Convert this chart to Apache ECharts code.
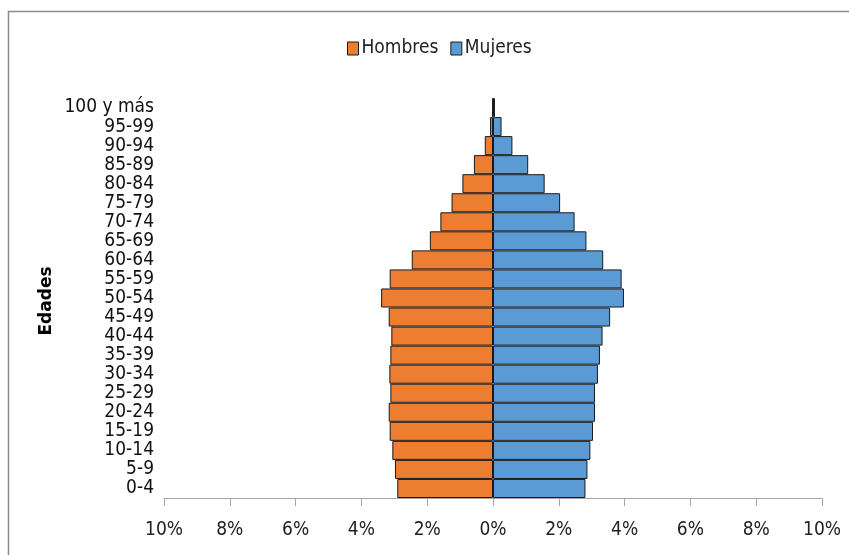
<!DOCTYPE html>
<html>
<head>
<meta charset="utf-8">
<script src="https://cdn.jsdelivr.net/npm/echarts@6/dist/echarts.min.js"></script>
<style>
  html, body { margin: 0; padding: 0; background: #fff; }
  #chart { width: 849px; height: 555px; }
</style>
</head>
<body>
<div id="chart"></div>
<script>
// Age groups, youngest first (drawn bottom to top)
const ageGroups = ['0-4', '5-9', '10-14', '15-19', '20-24', '25-29', '30-34', '35-39',
  '40-44', '45-49', '50-54', '55-59', '60-64', '65-69', '70-74', '75-79',
  '80-84', '85-89', '90-94', '95-99', '100 y más'];

// Share of total population (%)
const hombres = [2.91, 2.98, 3.06, 3.14, 3.17, 3.12, 3.15, 3.12,
  3.09, 3.17, 3.40, 3.14, 2.47, 1.92, 1.60, 1.26,
  0.93, 0.58, 0.25, 0.09, 0.02];
const mujeres = [2.81, 2.87, 2.96, 3.04, 3.10, 3.10, 3.19, 3.25,
  3.33, 3.56, 3.98, 3.91, 3.35, 2.84, 2.48, 2.04,
  1.57, 1.07, 0.59, 0.26, 0.06];

const xTicks = { min: -10, max: 10, step: 2 };

const FONT = "'Liberation Sans Narrow', 'DejaVu Sans Condensed', sans-serif";
const ORANGE = '#ED7D31';
const BLUE = '#5B9BD5';
const EDGE = '#1a1a1a';

const chart = echarts.init(document.getElementById('chart'), null, { renderer: 'canvas' });

chart.setOption({
  animation: false,
  backgroundColor: '#fff',
  textStyle: { fontFamily: FONT },
  legend: {
    left: 342,
    top: 34,
    itemWidth: 11,
    itemHeight: 13,
    itemGap: 12,
    icon: 'rect',
    textStyle: { fontFamily: FONT, fontSize: 19, color: '#222', padding: [0, 0, 0, -2] },
    data: [
      { name: 'Hombres', itemStyle: { color: ORANGE, borderColor: EDGE, borderWidth: 1 } },
      { name: 'Mujeres', itemStyle: { color: BLUE, borderColor: EDGE, borderWidth: 1 } }
    ]
  },
  grid: { left: 164, right: 27, top: 98, bottom: 57, containLabel: false },
  xAxis: {
    type: 'value',
    min: xTicks.min,
    max: xTicks.max,
    interval: xTicks.step,
    axisLine: { show: true, onZero: false, lineStyle: { color: '#A6A6A6', width: 1 } },
    axisTick: { show: true, length: 8, lineStyle: { color: '#A6A6A6' } },
    splitLine: { show: false },
    axisLabel: {
      margin: 23,
      fontFamily: FONT,
      fontSize: 19,
      color: '#222',
      formatter: v => Math.abs(v) + '%'
    }
  },
  yAxis: {
    type: 'category',
    data: ageGroups,
    axisLine: { show: false, onZero: false },
    axisTick: { show: false },
    splitLine: { show: false },
    axisLabel: {
      margin: 10,
      fontFamily: FONT,
      fontSize: 19,
      lineHeight: 19,
      color: '#111',
      interval: 0
    }
  },
  series: [
    {
      name: 'Hombres',
      type: 'bar',
      stack: 'pop',
      barCategoryGap: '0%',
      data: hombres.map(v => -v),
      itemStyle: { color: ORANGE, borderColor: EDGE, borderWidth: 1 }
    },
    {
      name: 'Mujeres',
      type: 'bar',
      stack: 'pop',
      barCategoryGap: '0%',
      data: mujeres,
      itemStyle: { color: BLUE, borderColor: EDGE, borderWidth: 1 }
    }
  ],
  graphic: [
    {
      type: 'rect',
      silent: true,
      shape: { x: 8.5, y: 11.5, width: 900, height: 600 },
      style: { fill: 'none', stroke: '#8C8C8C', lineWidth: 1.5 }
    },
    {
      type: 'text',
      x: 47,
      y: 301,
      rotation: Math.PI / 2,
      style: {
        text: 'Edades',
        font: "bold 17px 'DejaVu Sans', sans-serif",
        fill: '#000',
        align: 'center',
        verticalAlign: 'middle'
      }
    }
  ]
});
</script>
</body>
</html>
